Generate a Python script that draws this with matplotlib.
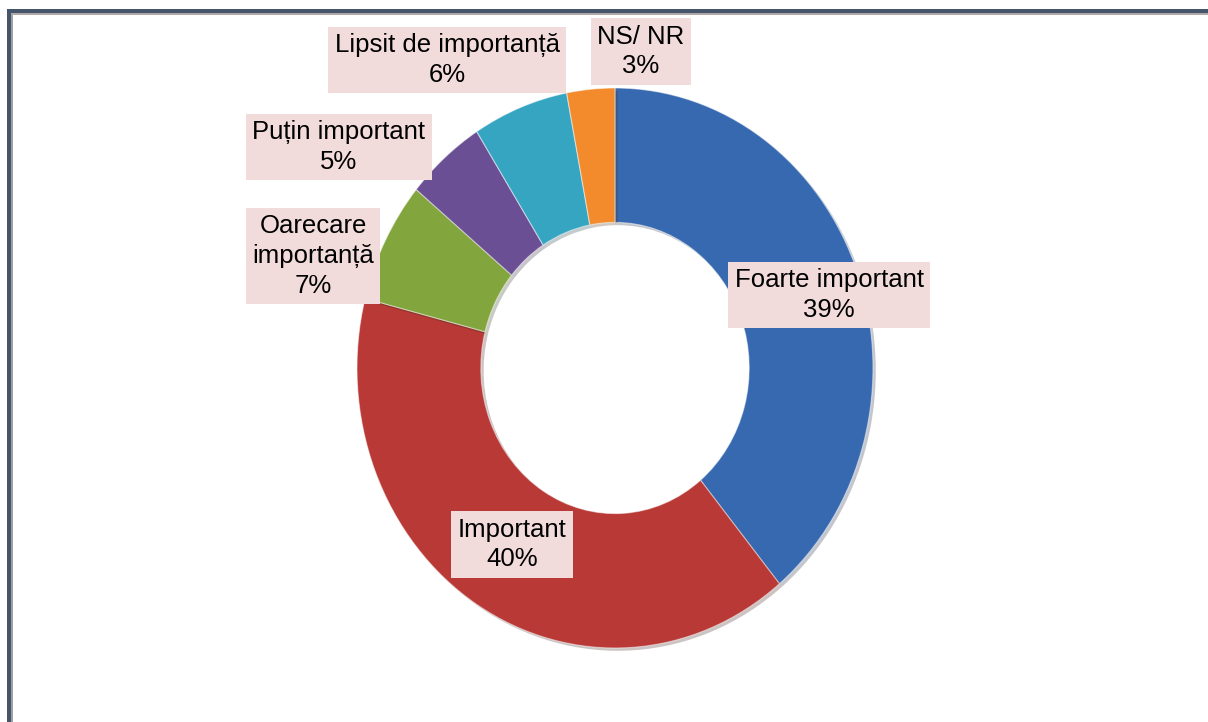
import matplotlib.pyplot as plt
from matplotlib.patches import Rectangle
import matplotlib.patheffects as pe

categories = ['Foarte important', 'Important', 'Oarecare\nimportanță',
              'Puțin important', 'Lipsit de importanță', 'NS/ NR']
values = [39, 40, 7, 5, 6, 3]
colors = ['#3769B0', '#B83935', '#82A53D', '#6B4F95', '#35A5C2', '#F38A2B']

# label box centres, in the ring's own units (outer radius = 1)
label_pos = [(0.83, 0.26), (-0.40, -0.63), (-1.17, 0.40),
             (-1.07, 0.79), (-0.65, 1.10), (0.10, 1.13)]

W, H = 1208, 722
fig = plt.figure(figsize=(W / 100, H / 100), dpi=100)
ax = fig.add_axes([0, 0, 1, 1])

wedges, _ = ax.pie(values, colors=colors, startangle=90, counterclock=False,
                   radius=1.0, wedgeprops=dict(width=0.48, edgecolor='#FFFFFF80',
                                               linewidth=0.8))
for w in wedges:
    w.set_path_effects([pe.SimplePatchShadow(offset=(2, -2), alpha=0.25),
                        pe.Normal()])

# ring centre at pixel (615, 368), radii 258 px across, 280 px tall
cx, cy, rx, ry = 615, 368, 258, 280
ax.set_aspect('auto')
ax.set_xlim(-cx / rx, (W - cx) / rx)
ax.set_ylim(-(H - cy) / ry, cy / ry)
ax.axis('off')

for name, v, (x, y) in zip(categories, values, label_pos):
    ax.text(x, y, f'{name}\n{v}%', ha='center', va='center',
            fontsize=18.5, family='Liberation Sans', color='black',
            linespacing=1.3,
            bbox=dict(boxstyle='square,pad=0.25', fc='#F2DCDB', ec='none'))

# frame along the top and left edges
fig.patches.append(Rectangle((7 / W, 0), 4 / W, (H - 9) / H,
                             transform=fig.transFigure, fc='#45556B', ec='none'))
fig.patches.append(Rectangle((7 / W, (H - 13) / H), (W - 7) / W, 4 / H,
                             transform=fig.transFigure, fc='#45556B', ec='none'))
fig.patches.append(Rectangle((11 / W, 0), 2 / W, (H - 13) / H,
                             transform=fig.transFigure, fc='#A0A0A0', ec='none'))
fig.patches.append(Rectangle((11 / W, (H - 15) / H), (W - 11) / W, 2 / H,
                             transform=fig.transFigure, fc='#B0A8A8', ec='none'))

fig.savefig('out.png', dpi=100)
